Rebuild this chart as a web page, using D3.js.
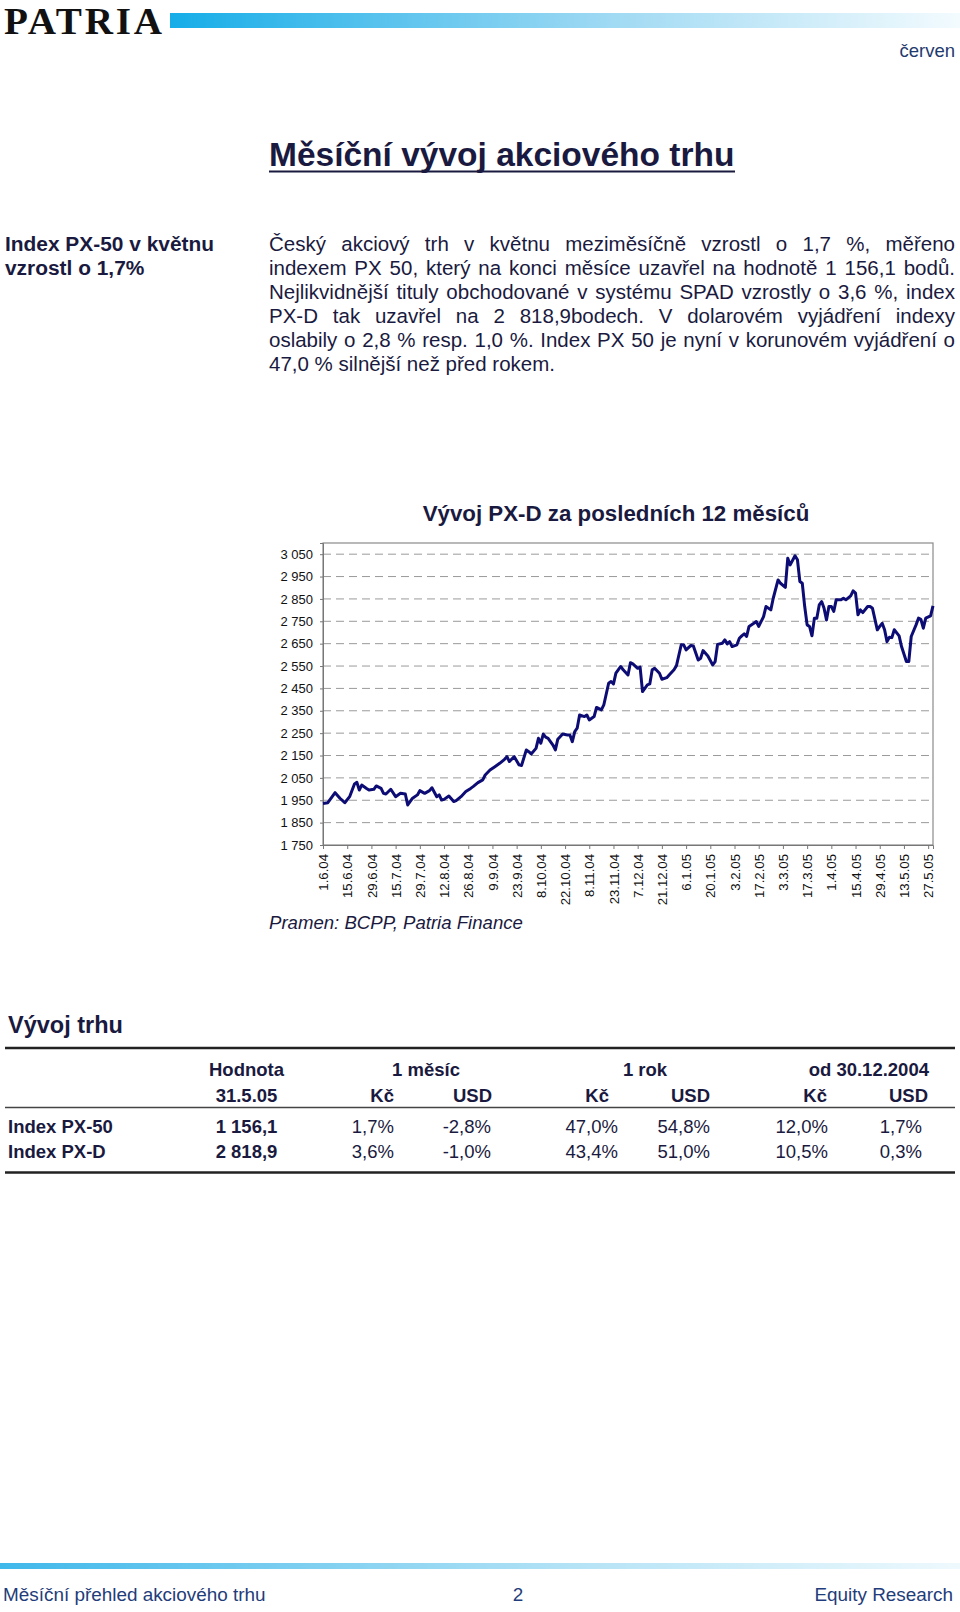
<!DOCTYPE html>
<html><head><meta charset="utf-8">
<script src="https://cdn.jsdelivr.net/npm/d3@7"></script>
<style>
body{margin:0;background:#fff;}
#page{position:relative;width:960px;height:1612px;overflow:hidden;font-family:"Liberation Sans",Arial,sans-serif;background:#fff;}
svg{position:absolute;left:0;top:0;}
.para{position:absolute;left:269px;top:232px;width:686px;font-size:20.5px;line-height:24px;color:#1a1a40;}
.para div{text-align:justify;text-align-last:justify;white-space:nowrap;}
.para div.last{text-align-last:left;}
</style></head><body><div id="page"><svg id="svg" width="960" height="1612"></svg><div class="para" id="para"></div></div>
<script>
// ---------- data ----------
const tickLabels = ["1.6.04","15.6.04","29.6.04","15.7.04","29.7.04","12.8.04","26.8.04","9.9.04","23.9.04","8.10.04","22.10.04","8.11.04","23.11.04","7.12.04","21.12.04","6.1.05","20.1.05","3.2.05","17.2.05","3.3.05","17.3.05","1.4.05","15.4.05","29.4.05","13.5.05","27.5.05"];
const daysPerTick = 10;
const lastDay = 252;
const yTickValues = [1750,1850,1950,2050,2150,2250,2350,2450,2550,2650,2750,2850,2950,3050];
const dayIdx = [0,2,5,7,9,11,13,14,15,16,18,19,21,22,24,25,26,28,30,32,34,35,37,39,40,42,44,45,47,48,49,50,52,54,55,57,59,61,62,64,66,67,69,71,73,75,76,77,79,81,82,84,85,86,88,89,90,91,92,93,95,96,97,99,101,102,103,104,105,106,108,109,110,112,113,115,116,118,119,120,121,123,124,126,127,128,130,131,132,134,135,136,137,139,140,142,143,145,146,148,149,150,152,153,155,156,157,159,161,162,163,165,166,167,168,169,171,172,173,174,175,176,178,179,180,182,183,185,186,188,189,191,192,193,195,196,197,198,199,200,201,202,203,204,205,206,207,208,209,210,211,212,214,215,216,218,219,220,221,222,223,225,226,227,229,230,231,232,233,234,235,236,238,239,241,242,243,245,246,247,248,249,251,252];
const pxd = [1936,1939,1984,1959,1939,1966,2023,2030,1996,2018,2003,1996,1999,2014,2003,1981,1978,1999,1966,1981,1978,1929,1959,1974,1993,1981,1993,2006,1966,1974,1951,1954,1969,1944,1948,1966,1989,2003,2011,2029,2041,2063,2085,2100,2115,2133,2145,2123,2145,2108,2105,2175,2167,2157,2182,2227,2205,2246,2232,2227,2197,2175,2223,2246,2242,2242,2212,2257,2272,2331,2324,2331,2309,2324,2365,2354,2376,2473,2481,2470,2518,2548,2533,2510,2565,2560,2540,2545,2436,2466,2470,2533,2540,2518,2491,2498,2510,2533,2551,2645,2645,2622,2642,2640,2577,2585,2619,2595,2555,2570,2647,2652,2667,2649,2659,2637,2645,2674,2685,2694,2682,2727,2741,2749,2727,2771,2816,2801,2853,2935,2920,2902,3032,3002,3043,3025,2928,2920,2816,2734,2727,2685,2764,2764,2823,2838,2808,2756,2816,2816,2794,2846,2846,2853,2846,2864,2886,2876,2779,2801,2789,2816,2816,2808,2712,2727,2741,2712,2659,2679,2677,2712,2685,2637,2570,2570,2682,2734,2764,2759,2719,2764,2774,2818.9];

const paraLines = [
 "Český akciový trh v\u00a0květnu meziměsíčně vzrostl o 1,7 %, měřeno",
 "indexem PX 50, který na konci měsíce uzavřel na hodnotě 1 156,1 bodů.",
 "Nejlikvidnější tituly obchodované v\u00a0systému SPAD vzrostly o 3,6 %, index",
 "PX-D tak uzavřel na 2 818,9bodech. V\u00a0dolarovém vyjádření indexy",
 "oslabily o 2,8 % resp. 1,0 %. Index PX 50 je nyní v korunovém vyjádření o",
 "47,0 % silnější než před rokem."
];
const sideLines = ["Index PX-50 v květnu","vzrostl o 1,7%"];

const groupHeaders = ["Hodnota","1 měsíc","1 rok","od 30.12.2004"];
const subHeaders = ["31.5.05","Kč","USD","Kč","USD","Kč","USD"];
const rowNames = ["Index PX-50","Index PX-D"];
const hodnota = ["1 156,1","2 818,9"];
const m1Kc = ["1,7%","3,6%"];
const m1Usd = ["-2,8%","-1,0%"];
const y1Kc = ["47,0%","43,4%"];
const y1Usd = ["54,8%","51,0%"];
const ytdKc = ["12,0%","10,5%"];
const ytdUsd = ["1,7%","0,3%"];

// ---------- drawing ----------
const FONT = '"Liberation Sans", Arial, sans-serif';
const INK = "#1a1a40";
const svg = d3.select("#svg");
const defs = svg.append("defs");
const g1 = defs.append("linearGradient").attr("id","topbar");
g1.append("stop").attr("offset","0%").attr("stop-color","#16ade8");
g1.append("stop").attr("offset","55%").attr("stop-color","#9ed9f3");
g1.append("stop").attr("offset","100%").attr("stop-color","#f3fbfe");
const g2 = defs.append("linearGradient").attr("id","botbar");
g2.append("stop").attr("offset","0%").attr("stop-color","#3fb8ea");
g2.append("stop").attr("offset","60%").attr("stop-color","#b5e3f6");
g2.append("stop").attr("offset","100%").attr("stop-color","#eef9fd");

// header
svg.append("g").attr("transform","translate(4,34) scale(1.35,1.3)")
  .append("text").attr("x",0).attr("y",0).attr("font-family",'"Liberation Serif","Times New Roman",serif')
  .attr("font-size",29).attr("font-weight","bold").attr("textLength",117).attr("lengthAdjust","spacing")
  .attr("fill","#111").text("PATRIA");
svg.append("rect").attr("x",170).attr("y",13).attr("width",790).attr("height",15).attr("fill","url(#topbar)");
svg.append("text").attr("x",955).attr("y",57).attr("text-anchor","end").attr("font-family",FONT)
  .attr("font-size",18.5).attr("fill","#1f3a6e").text("červen");

// main title
svg.append("text").attr("x",269).attr("y",166).attr("font-family",FONT).attr("font-weight","bold")
  .attr("font-size",33.5).attr("fill",INK).text("Měsíční vývoj akciového trhu");
svg.append("line").attr("x1",269).attr("x2",735).attr("y1",171.5).attr("y2",171.5).attr("stroke",INK).attr("stroke-width",2.2);

// sidebar
sideLines.forEach((t,i)=>{
  svg.append("text").attr("x",5).attr("y",251+i*24).attr("font-family",FONT).attr("font-weight","bold")
    .attr("font-size",20.9).attr("fill",INK).text(t);
});
// paragraph
d3.select("#para").selectAll("div").data(paraLines).join("div")
  .attr("class",(d,i)=> i===paraLines.length-1 ? "last" : null).text(d=>d);

// chart
const plot = {left:323, right:933, top:543, bottom:845};
const x = d3.scaleLinear().domain([0,lastDay]).range([plot.left,plot.right]);
const y = d3.scaleLinear().domain([1750,3100]).range([plot.bottom,plot.top]);
const fmt = v => String(v).replace(/\B(?=(\d{3})+(?!\d))/g," ");

svg.append("text").attr("x",616).attr("y",521).attr("text-anchor","middle").attr("font-family",FONT)
  .attr("font-weight","bold").attr("font-size",22.3).attr("fill",INK).text("Vývoj PX-D za posledních 12 měsíců");

const chart = svg.append("g");
// gridlines
chart.append("g").selectAll("line").data(yTickValues.filter(v=>v>1750)).join("line")
  .attr("x1",plot.left).attr("x2",plot.right).attr("y1",d=>y(d)).attr("y2",d=>y(d))
  .attr("stroke","#9a9a9a").attr("stroke-width",1).attr("stroke-dasharray","8,5");
// frame
chart.append("rect").attr("x",plot.left).attr("y",plot.top).attr("width",plot.right-plot.left)
  .attr("height",plot.bottom-plot.top).attr("fill","none").attr("stroke","#8a8a8a").attr("stroke-width",1.2);

// y axis
const yAxis = chart.append("g").attr("transform",`translate(${plot.left},0)`)
  .call(d3.axisLeft(y).tickValues(yTickValues).tickSize(3).tickPadding(7).tickFormat(fmt));
yAxis.select(".domain").attr("stroke","#777");
yAxis.selectAll(".tick line").attr("stroke","#777");
yAxis.selectAll("text").attr("font-family",FONT).attr("font-size",13).attr("fill","#111");

// x axis
const xTicks = tickLabels.map((d,i)=>i*daysPerTick);
const xAxis = chart.append("g").attr("transform",`translate(0,${plot.bottom})`)
  .call(d3.axisBottom(x).tickValues(xTicks).tickSize(4).tickFormat((d,i)=>tickLabels[i]));
xAxis.select(".domain").attr("stroke","#777");
xAxis.selectAll(".tick line").attr("stroke","#777");
xAxis.selectAll("text").attr("font-family",FONT).attr("font-size",13.2).attr("fill","#111")
  .attr("transform","rotate(-90)").attr("x",-9).attr("y",0).attr("dy","0.35em").style("text-anchor","end");

// line
const series = dayIdx.map((d,i)=>({d, v:pxd[i]}));
chart.append("path").datum(series).attr("fill","none").attr("stroke","#0c0c74").attr("stroke-width",3)
  .attr("stroke-linejoin","round").attr("d", d3.line().x(p=>x(p.d)).y(p=>y(p.v)));

svg.append("text").attr("x",269).attr("y",929).attr("font-family",FONT).attr("font-style","italic")
  .attr("font-size",18.6).attr("fill",INK).text("Pramen: BCPP, Patria Finance");

// table
svg.append("text").attr("x",8).attr("y",1033).attr("font-family",FONT).attr("font-weight","bold")
  .attr("font-size",23.5).attr("fill",INK).text("Vývoj trhu");
svg.append("line").attr("x1",5).attr("x2",955).attr("y1",1048).attr("y2",1048).attr("stroke","#222").attr("stroke-width",2.5);
svg.append("line").attr("x1",5).attr("x2",955).attr("y1",1107.5).attr("y2",1107.5).attr("stroke","#444").attr("stroke-width",1.5);
svg.append("line").attr("x1",5).attr("x2",955).attr("y1",1172.5).attr("y2",1172.5).attr("stroke","#222").attr("stroke-width",2.5);

const tfs = 18.5;
const groupPos = [{x:246.5,a:"middle"},{x:426,a:"middle"},{x:645,a:"middle"},{x:929,a:"end"}];
groupHeaders.forEach((t,i)=>{
  svg.append("text").attr("x",groupPos[i].x).attr("y",1076).attr("text-anchor",groupPos[i].a)
    .attr("font-family",FONT).attr("font-weight","bold").attr("font-size",tfs).attr("fill",INK).text(t);
});
const subPos = [{x:246.5,a:"middle"},{x:394,a:"end"},{x:492,a:"end"},{x:609,a:"end"},{x:710,a:"end"},{x:827,a:"end"},{x:928,a:"end"}];
subHeaders.forEach((t,i)=>{
  svg.append("text").attr("x",subPos[i].x).attr("y",1102).attr("text-anchor",subPos[i].a)
    .attr("font-family",FONT).attr("font-weight","bold").attr("font-size",tfs).attr("fill",INK).text(t);
});
const valueCols = [m1Kc,m1Usd,y1Kc,y1Usd,ytdKc,ytdUsd];
const valueRight = [394,491,618,710,828,922];
rowNames.forEach((name,r)=>{
  const yy = 1133 + r*25;
  svg.append("text").attr("x",8).attr("y",yy).attr("font-family",FONT).attr("font-weight","bold")
    .attr("font-size",tfs).attr("fill",INK).text(name);
  svg.append("text").attr("x",246.5).attr("y",yy).attr("text-anchor","middle").attr("font-family",FONT)
    .attr("font-weight","bold").attr("font-size",tfs).attr("fill",INK).text(hodnota[r]);
  valueCols.forEach((col,c)=>{
    svg.append("text").attr("x",valueRight[c]).attr("y",yy).attr("text-anchor","end").attr("font-family",FONT)
      .attr("font-size",tfs).attr("fill",INK).text(col[r]);
  });
});

// footer
svg.append("rect").attr("x",0).attr("y",1563).attr("width",960).attr("height",6).attr("fill","url(#botbar)");
const foot = [{t:"Měsíční přehled akciového trhu",x:3,a:"start"},{t:"2",x:518,a:"middle"},{t:"Equity Research",x:953,a:"end"}];
foot.forEach(f=>{
  svg.append("text").attr("x",f.x).attr("y",1601).attr("text-anchor",f.a).attr("font-family",FONT)
    .attr("font-size",18.9).attr("fill","#1f3d7a").text(f.t);
});
</script></body></html>
